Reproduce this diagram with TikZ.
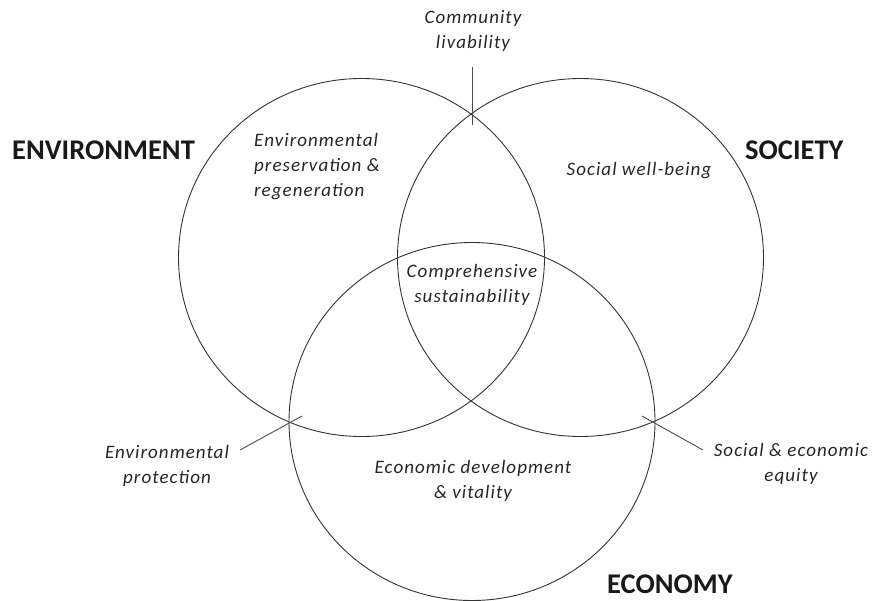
\documentclass[tikz,border=0pt]{standalone}
\usepackage{fontspec}
\setmainfont{Carlito}
\newfontfamily\labfont[LetterSpace=5.5]{Carlito}
\usetikzlibrary{shapes.geometric}
\begin{document}
\begin{tikzpicture}[x=1pt,y=-1pt,
  ring/.style={draw=black!80,line width=0.9pt,ellipse,minimum width=366pt,minimum height=358pt,inner sep=0pt},
  lead/.style={draw=black!70,line width=0.9pt},
  big/.style={font=\fontsize{28.5}{32}\selectfont\bfseries,text=black!90,inner sep=0pt},
  lab/.style={font=\labfont\fontsize{19}{25}\selectfont\itshape,text=black!85,align=center,inner sep=0pt}]
\useasboundingbox (0,0) rectangle (873,600);
\node[ring] (env) at (361.5,257.5) {};
\node[ring] (soc) at (580.5,257.5) {};
\node[ring] (eco) at (472,421.5) {};
% titles
\node[big,anchor=west] (tenv) at (12,150) {ENVIRONMENT};
\node[big,anchor=west] (tsoc) at (745,150) {SOCIETY};
\node[big,anchor=west] (teco) at (607,584) {ECONOMY};
% region labels
\node[lab,align=left,anchor=north west] (pres) at (254,133) {Environmental\\preservation \&\\regeneration};
\node[lab] (well) at (639,171) {Social well-being};
\node[lab] (comp) at (472,284.5) {Comprehensive\\sustainability};
\node[lab] (dev) at (473,480.5) {Economic development\\\& vitality};
\node[lab] (live) at (473,30.5) {Community\\livability};
\node[lab] (prot) at (167,466) {Environmental\\protection};
\node[lab] (equi) at (791,464) {Social \& economic\\equity};
% leaders
\coordinate (l1a) at (472,67);
\coordinate (l1b) at (472,125);
\coordinate (l2a) at (240,450);
\coordinate (l2b) at (302,416);
\coordinate (l3a) at (642,416);
\coordinate (l3b) at (703,450);
\draw[lead] (l1a) -- (l1b);
\draw[lead] (l2a) -- (l2b);
\draw[lead] (l3a) -- (l3b);
\end{tikzpicture}
\end{document}
